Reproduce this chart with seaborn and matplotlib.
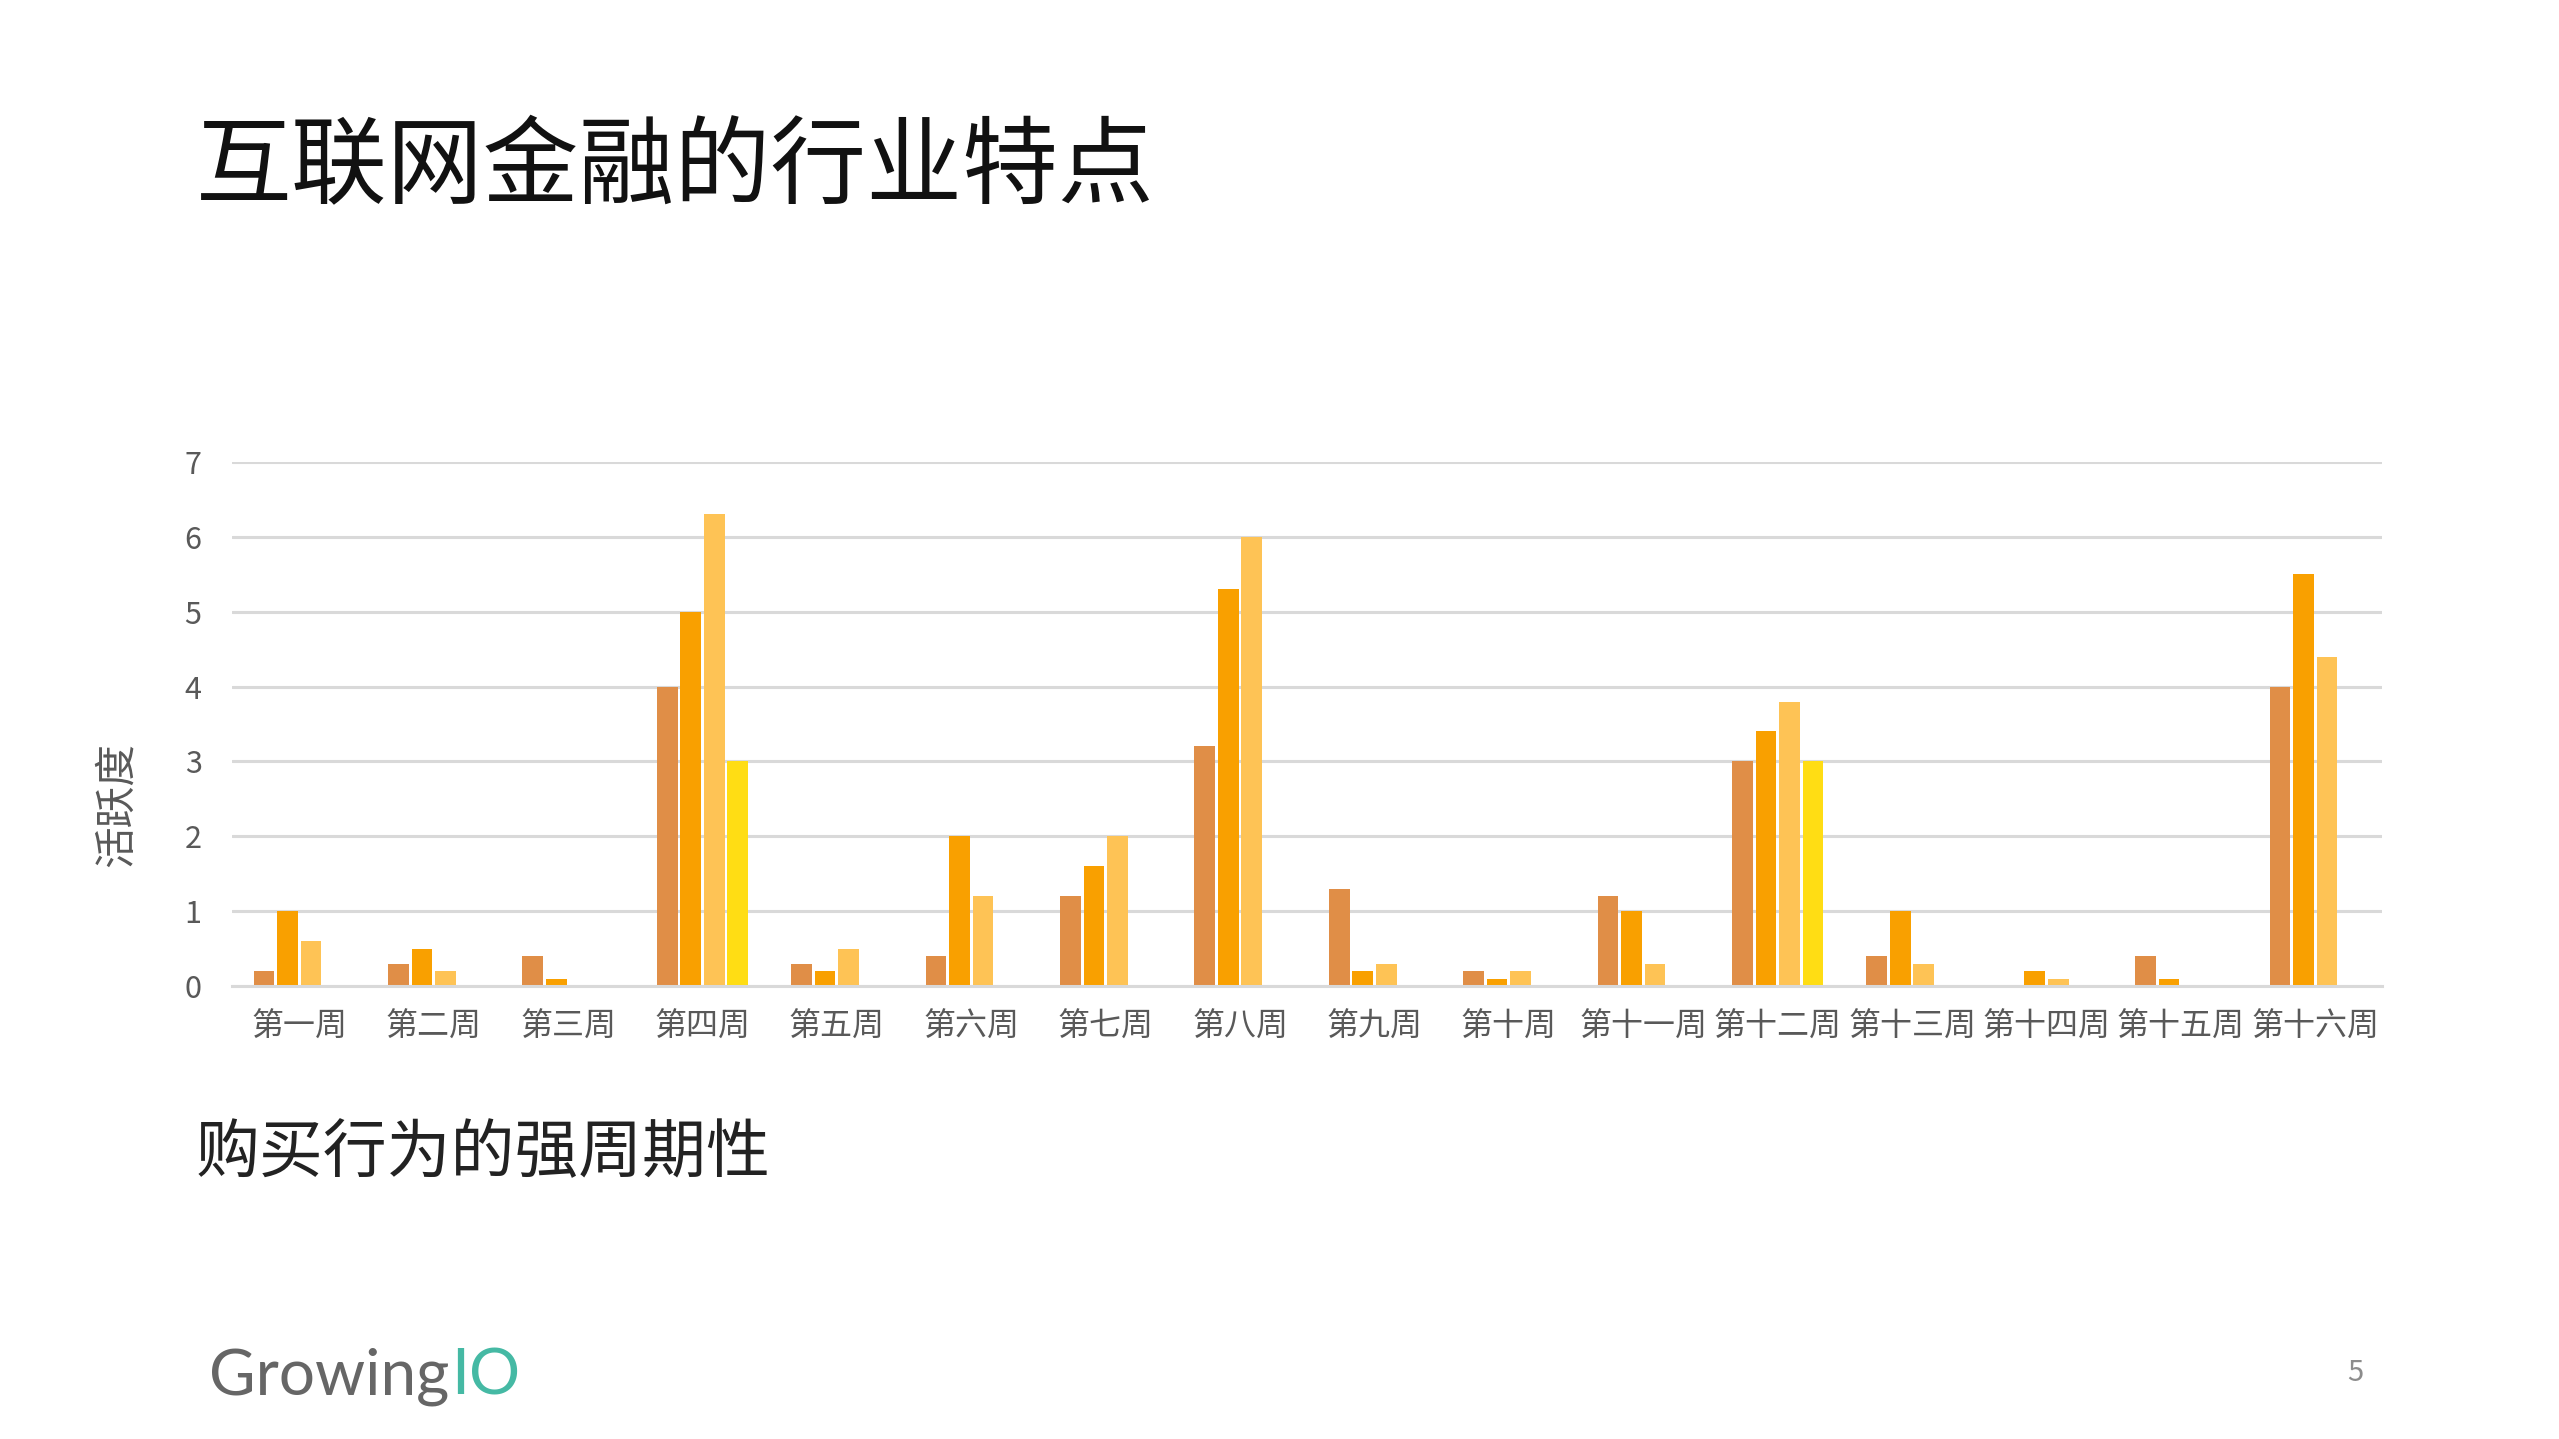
import pandas as pd
import matplotlib
matplotlib.use('Agg')
import matplotlib.pyplot as plt
import seaborn as sns

# data
weeks = ['第一周', '第二周', '第三周', '第四周', '第五周', '第六周', '第七周', '第八周',
         '第九周', '第十周', '第十一周', '第十二周', '第十三周', '第十四周', '第十五周', '第十六周']
series_names = ['系列1', '系列2', '系列3', '系列4']
s1 = [0.2, 0.3, 0.4, 4.0, 0.3, 0.4, 1.2, 3.2, 1.3, 0.2, 1.2, 3.0, 0.4, 0.0, 0.4, 4.0]
s2 = [1.0, 0.5, 0.1, 5.0, 0.2, 2.0, 1.6, 5.3, 0.2, 0.1, 1.0, 3.4, 1.0, 0.2, 0.1, 5.5]
s3 = [0.6, 0.2, 0.0, 6.3, 0.5, 1.2, 2.0, 6.0, 0.3, 0.2, 0.3, 3.8, 0.3, 0.1, 0.0, 4.4]
s4 = [0.0, 0.0, 0.0, 3.0, 0.0, 0.0, 0.0, 0.0, 0.0, 0.0, 0.0, 3.0, 0.0, 0.0, 0.0, 0.0]
y_ticks = [0, 1, 2, 3, 4, 5, 6, 7]

colors = ['#E08E47', '#F9A000', '#FEC355', '#FFDD14']

rows = []
for name, vals in zip(series_names, [s1, s2, s3, s4]):
    for w, v in zip(weeks, vals):
        rows.append({'week': w, 'value': v, 'series': name})
df = pd.DataFrame(rows)

sns.set_theme(style='white')
plt.rcParams['font.family'] = ['Noto Sans CJK SC', 'DejaVu Sans']

fig = plt.figure(figsize=(25.59, 14.39), dpi=100)
ax = fig.add_axes([0.0907, 0.3148, 0.8403, 0.3642])

sns.barplot(data=df, x='week', y='value', hue='series', hue_order=series_names,
            order=weeks, palette=colors, width=0.7, gap=0.12, legend=False,
            saturation=1, ax=ax, edgecolor='none')

ax.set_ylim(0, 7)
ax.set_xlim(-0.5, len(weeks) - 0.5)
ax.set_yticks(y_ticks)
ax.yaxis.grid(True, color='#D9D9D9', linewidth=2.2)
ax.set_axisbelow(True)
for side in ['top', 'right', 'left']:
    ax.spines[side].set_visible(False)
ax.spines['bottom'].set_color('#D9D9D9')
ax.spines['bottom'].set_linewidth(2.2)
ax.tick_params(axis='y', length=0, pad=22, labelsize=22, labelcolor='#595959')
ax.tick_params(axis='x', length=0, pad=18, labelsize=23, labelcolor='#595959')
ax.set_xlabel('')
ax.set_ylabel('')

fig.text(0.046, 0.441, '活跃度', rotation=90, fontsize=30, color='#595959',
         ha='center', va='center')

fig.text(0.0766, 0.883, '互联网金融的行业特点', fontsize=69, color='#111111',
         ha='left', va='center')
fig.text(0.0766, 0.198, '购买行为的强周期性', fontsize=46, color='#222222',
         ha='left', va='center')

# logo
t1 = fig.text(0.0815, 0.031, 'Growing', fontsize=46, color='#666666',
              family=['Lato', 'DejaVu Sans'], ha='left', va='baseline')
fig.canvas.draw()
bb = t1.get_window_extent()
fig.text(bb.x1 / fig.bbox.width + 0.001, 0.031, 'IO', fontsize=46, color='#45B9A4',
         family=['Lato', 'DejaVu Sans'], ha='left', va='baseline')

fig.text(0.9203, 0.046, '5', fontsize=21, color='#8C8C8C', ha='center', va='center')

fig.savefig('out.png', dpi=100)
